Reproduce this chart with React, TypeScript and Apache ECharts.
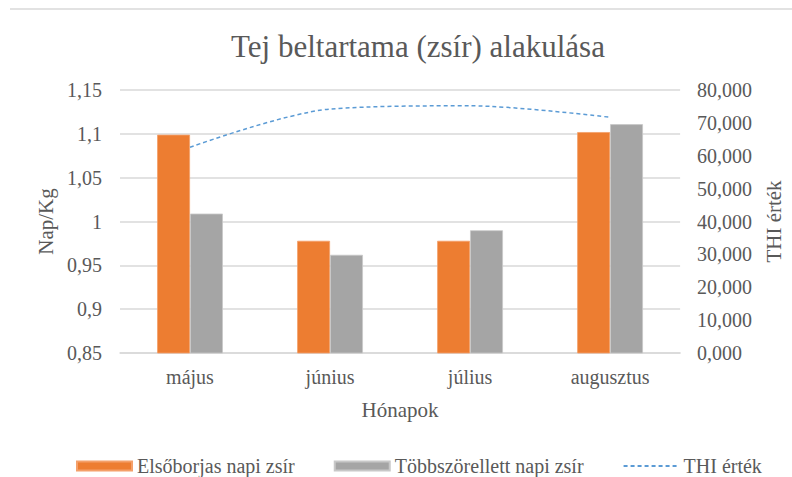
import React, { useEffect, useRef } from "react";
import * as echarts from "echarts";

const categories = ["május", "június", "július", "augusztus"];
const elsoborjas = [1.099, 0.978, 0.978, 1.102];
const tobbszorellett = [1.009, 0.962, 0.99, 1.111];
const thi = [62.6, 74.2, 75.2, 71.7];

const FONT = "Liberation Serif";
const TXT = "#595959";

export default function App() {
  const ref = useRef<HTMLDivElement>(null);
  useEffect(() => {
    if (!ref.current) return;
    const chart = echarts.init(ref.current, null, { renderer: "svg" });
    chart.setOption({
      animation: false,
      backgroundColor: "#fff",
      textStyle: { fontFamily: FONT, color: TXT },
      title: {
        text: "Tej beltartama (zsír) alakulása",
        left: 226,
        top: 26,
        textStyle: { fontFamily: FONT, fontSize: 31, fontWeight: "normal", color: TXT },
      },
      graphic: [
        { type: "line", shape: { x1: 10, y1: 9, x2: 792, y2: 9 }, style: { stroke: "#d9d9d9", lineWidth: 1.5 } },
      ],
      legend: {
        top: 456,
        left: 76,
        padding: 0,
        itemWidth: 55,
        itemHeight: 9,
        itemGap: 39,
        textStyle: { fontFamily: FONT, fontSize: 20, color: TXT, lineHeight: 20 },
        data: [
          { name: "Elsőborjas napi zsír", icon: "rect" },
          { name: "Többszörellett napi zsír", icon: "rect" },
          { name: "THI érték", itemStyle: { opacity: 0 } },
        ],
      },
      grid: { left: 120, right: 104, top: 90, bottom: 124 },
      xAxis: {
        type: "category",
        data: categories,
        name: "Hónapok",
        nameLocation: "middle",
        nameGap: 46,
        nameTextStyle: { fontFamily: FONT, fontSize: 21, color: TXT },
        axisTick: { show: false },
        axisLine: { lineStyle: { color: "#d9d9d9", width: 1.5 } },
        axisLabel: { fontFamily: FONT, fontSize: 20, color: TXT, margin: 14 },
      },
      yAxis: [
        {
          type: "value",
          min: 0.85,
          max: 1.15,
          interval: 0.05,
          name: "Nap/Kg",
          nameLocation: "middle",
          nameRotate: 90,
          nameGap: 62,
          nameTextStyle: { fontFamily: FONT, fontSize: 21, color: TXT },
          axisLabel: {
            fontFamily: FONT,
            fontSize: 20,
            color: TXT,
            margin: 18,
            formatter: (v: number) => String(Math.round(v * 100) / 100).replace(".", ","),
          },
          splitLine: { lineStyle: { color: "#d9d9d9", width: 1.5 } },
          axisLine: { show: false },
          axisTick: { show: false },
        },
        {
          type: "value",
          min: 0,
          max: 80,
          interval: 10,
          name: "THI érték",
          nameLocation: "middle",
          nameRotate: 90,
          nameGap: 80,
          nameTextStyle: { fontFamily: FONT, fontSize: 21, color: TXT },
          axisLabel: {
            fontFamily: FONT,
            fontSize: 20,
            color: TXT,
            margin: 17,
            formatter: (v: number) => v.toFixed(3).replace(".", ","),
          },
          splitLine: { show: false },
          axisLine: { show: false },
          axisTick: { show: false },
        },
      ],
      series: [
        {
          name: "Elsőborjas napi zsír",
          type: "bar",
          data: elsoborjas,
          barGap: "0%",
          barCategoryGap: "53%",
          itemStyle: { color: "#ED7D31", borderColor: "#f4a06a", borderWidth: 0.8 },
        },
        {
          name: "Többszörellett napi zsír",
          type: "bar",
          data: tobbszorellett,
          barGap: "0%",
          barCategoryGap: "53%",
          itemStyle: { color: "#A5A5A5", borderColor: "#c8c8c8", borderWidth: 0.8 },
        },
        {
          name: "THI érték",
          type: "line",
          yAxisIndex: 1,
          data: thi,
          smooth: 0.3,
          symbol: "none",
          itemStyle: { color: "#5B9BD5" },
          lineStyle: { color: "#5B9BD5", width: 1.5, type: [4, 3] },
        },
      ],
    });
    return () => chart.dispose();
  }, []);
  return (
    <div
      ref={ref}
      style={{ position: "fixed", left: 0, top: 0, width: 792, height: 477 }}
    />
  );
}
